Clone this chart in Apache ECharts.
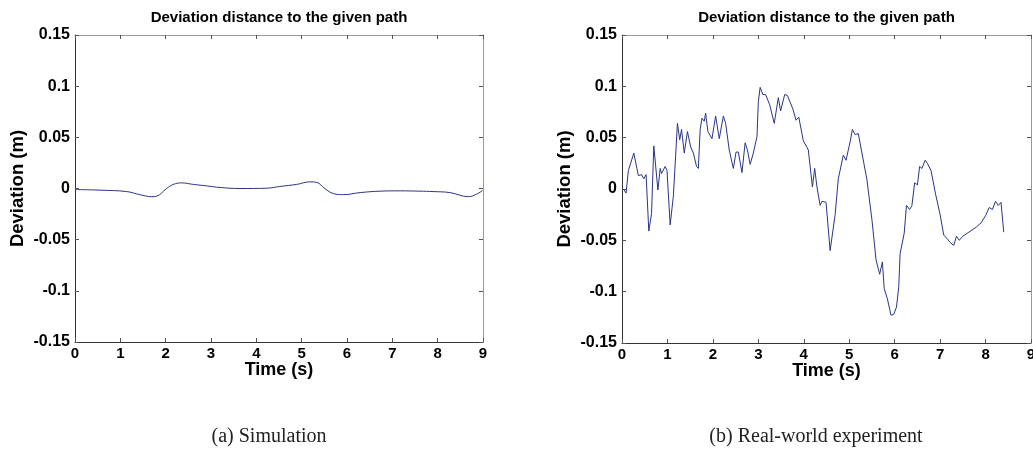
<!DOCTYPE html>
<html>
<head>
<meta charset="utf-8">
<style>
  html, body { margin: 0; padding: 0; background: #fff; }
  #chart { width: 1033px; height: 452px; }
</style>
<script src="https://cdn.jsdelivr.net/npm/echarts@6/dist/echarts.min.js"></script>
</head>
<body>
<div id="chart"></div>
<script>
// 仿真结果 (a)
const simTime = [0, 0.55, 1.14, 1.43, 1.69, 1.80, 2.02, 2.17, 2.35, 2.61, 2.90, 3.20, 3.64, 4.23, 4.52, 4.89, 5.18, 5.33, 5.51, 5.70, 5.92, 6.29, 6.73, 7.17, 7.61, 7.90, 8.27, 8.68, 8.86, 8.99];
const simDev = [-0.001, -0.0016, -0.003, -0.006, -0.008, -0.0075, 0, 0.004, 0.0055, 0.004, 0.0026, 0.001, 0, 0.0003, 0.002, 0.004, 0.0065, 0.006, 0, -0.005, -0.006, -0.004, -0.0026, -0.0023, -0.0026, -0.003, -0.004, -0.008, -0.0055, -0.002];

// 实车实验 (b)
const expTime = [0.03, 0.09, 0.14, 0.18, 0.26, 0.36, 0.43, 0.48, 0.53, 0.59, 0.65, 0.70, 0.79, 0.84, 0.87, 0.95, 0.99,
  1.06, 1.13, 1.18, 1.22, 1.27, 1.31, 1.37, 1.44, 1.51, 1.57, 1.64, 1.68, 1.72, 1.76, 1.81, 1.84, 1.89, 1.98,
  2.06, 2.14, 2.23, 2.28, 2.36, 2.45, 2.51, 2.56, 2.64, 2.71, 2.76, 2.82, 2.89, 2.97, 3.00, 3.04, 3.10, 3.16,
  3.25, 3.35, 3.44, 3.49, 3.58, 3.64, 3.76, 3.83, 3.89, 3.99, 4.10, 4.19, 4.24, 4.29, 4.36, 4.40, 4.49, 4.58,
  4.69, 4.76, 4.87, 4.93, 5.02, 5.07, 5.13, 5.20, 5.39, 5.50, 5.59, 5.67, 5.73, 5.77, 5.84, 5.92, 5.98, 6.04,
  6.09, 6.12, 6.21, 6.26, 6.33, 6.38, 6.44, 6.50, 6.55, 6.60, 6.67, 6.72, 6.80, 6.90, 7.00, 7.08, 7.15, 7.22,
  7.30, 7.36, 7.42, 7.50, 7.60, 7.70, 7.80, 7.90, 8.00, 8.08, 8.15, 8.22, 8.28, 8.34, 8.40];
const expDev = [0.000, -0.004, 0.018, 0.019, 0.035, 0.013, 0.014, 0.010, 0.014, -0.041, -0.024, 0.042, -0.001, 0.020, 0.015, 0.022, 0.018,
  -0.035, -0.007, 0.032, 0.064, 0.048, 0.058, 0.035, 0.056, 0.041, 0.035, 0.022, 0.020, 0.058, 0.069, 0.066, 0.074, 0.056, 0.049,
  0.071, 0.049, 0.071, 0.064, 0.038, 0.020, 0.036, 0.036, 0.016, 0.045, 0.038, 0.024, 0.035, 0.051, 0.085, 0.099, 0.092, 0.092,
  0.082, 0.064, 0.089, 0.076, 0.092, 0.091, 0.078, 0.067, 0.070, 0.047, 0.038, 0.002, 0.020, 0.002, -0.016, -0.012, -0.013, -0.060,
  -0.025, 0.010, 0.033, 0.028, 0.046, 0.058, 0.053, 0.054, 0.009, -0.030, -0.069, -0.083, -0.071, -0.097, -0.107, -0.123, -0.122, -0.115,
  -0.095, -0.063, -0.043, -0.016, -0.020, -0.016, 0.006, 0.004, 0.022, 0.020, 0.028, 0.025, 0.018, -0.005, -0.025, -0.045, -0.048, -0.052,
  -0.055, -0.046, -0.050, -0.046, -0.043, -0.040, -0.037, -0.033, -0.026, -0.018, -0.020, -0.012, -0.016, -0.013, -0.042];

const titleText = "Deviation distance to the given path";
const captions = ["(a) Simulation", "(b) Real-world experiment"];
const xName = "Time (s)";
const yName = "Deviation (m)";

const FONT = "'Liberation Sans', Arial, sans-serif";
const lineColor = "#2b3585";

const grids = [
  { left: 75, top: 35, width: 408, height: 307 },
  { left: 622, top: 35, width: 409, height: 308 },
];

const fmtY = (v) => String(+v.toFixed(2));

const xAxes = [];
const yAxes = [];
grids.forEach((g, i) => {
  // 下边 / 上边
  ["bottom", "top"].forEach((pos) => {
    const main = pos === "bottom";
    xAxes.push({
      type: "value",
      gridIndex: i,
      position: pos,
      min: 0,
      max: 9,
      interval: 1,
      name: main ? xName : "",
      nameLocation: "middle",
      nameGap: 19,
      nameMoveOverlap: false,
      nameTextStyle: { fontFamily: FONT, fontWeight: "bold", fontSize: 18, color: "#000", verticalAlign: "top" },
      axisLine: { show: true, onZero: false, lineStyle: { color: main ? "#333" : "#999", width: 1 } },
      axisTick: { show: true, inside: true, length: 4, lineStyle: { color: "#555" } },
      axisLabel: { show: main, margin: 4, fontFamily: FONT, fontWeight: "bold", fontSize: 15, color: "#000" },
      splitLine: { show: false },
    });
  });
  // 左边 / 右边
  ["left", "right"].forEach((pos) => {
    const main = pos === "left";
    yAxes.push({
      type: "value",
      gridIndex: i,
      position: pos,
      min: -0.15,
      max: 0.15,
      interval: 0.05,
      name: main ? yName : "",
      nameLocation: "middle",
      nameGap: 48,
      nameRotate: 90,
      nameMoveOverlap: false,
      nameTextStyle: { fontFamily: FONT, fontWeight: "bold", fontSize: 18.5, color: "#000" },
      axisLine: { show: true, onZero: false, lineStyle: { color: main ? "#333" : "#999", width: 1 } },
      axisTick: { show: true, inside: true, length: 4, lineStyle: { color: "#555" } },
      axisLabel: { show: main, margin: 5, formatter: fmtY, fontFamily: FONT, fontWeight: "bold", fontSize: 16, color: "#000" },
      splitLine: { show: false },
    });
  });
});

const toPairs = (xs, ys) => xs.map((x, i) => [x, ys[i]]);

const graphics = [];
grids.forEach((g, i) => {
  const cx = g.left + g.width / 2;
  graphics.push({
    type: "text",
    x: cx,
    y: 18,
    style: { text: titleText, font: "bold 15px " + FONT, fill: "#000", textAlign: "center", textVerticalAlign: "middle" },
  });
  graphics.push({
    type: "text",
    x: i === 0 ? 269 : 816,
    y: 437,
    style: { text: captions[i], font: "20px 'Liberation Serif', 'Times New Roman', serif", fill: "#222", textAlign: "center", textVerticalAlign: "middle" },
  });
});

const chart = echarts.init(document.getElementById("chart"));
chart.setOption({
  backgroundColor: "#fff",
  animation: false,
  grid: grids.map((g) => Object.assign({ containLabel: false, outerBoundsMode: "none" }, g)),
  xAxis: xAxes,
  yAxis: yAxes,
  graphic: graphics,
  series: [
    {
      type: "line",
      xAxisIndex: 0,
      yAxisIndex: 0,
      data: toPairs(simTime, simDev),
      smooth: 0.4,
      showSymbol: false,
      lineStyle: { color: lineColor, width: 1 },
    },
    {
      type: "line",
      xAxisIndex: 2,
      yAxisIndex: 2,
      data: toPairs(expTime, expDev),
      showSymbol: false,
      lineStyle: { color: lineColor, width: 1 },
    },
  ],
});
</script>
</body>
</html>
